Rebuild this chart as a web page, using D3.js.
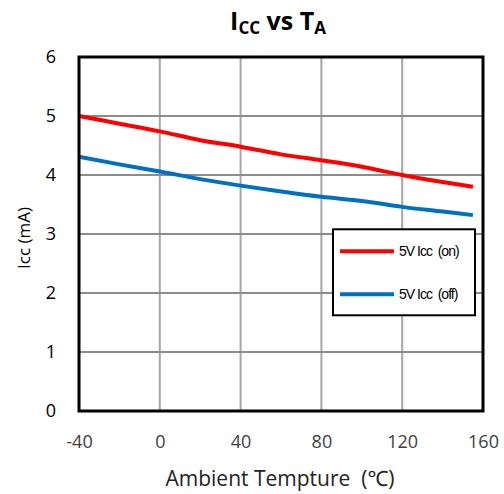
<!DOCTYPE html>
<html>
<head>
<meta charset="utf-8">
<script src="https://cdn.jsdelivr.net/npm/d3@7/dist/d3.min.js"></script>
<style>
  body { margin: 0; background: #fff; }
  svg { display: block; font-family: "Open Sans", "Noto Sans", sans-serif; }
</style>
</head>
<body>
<svg id="chart"></svg>
<script>
// data
var temps   = [-40, -20, 0, 20, 40, 60, 80, 100, 120, 140, 155];
var iccOn   = [5.00, 4.87, 4.74, 4.59, 4.48, 4.35, 4.25, 4.14, 4.00, 3.88, 3.80];
var iccOff  = [4.31, 4.18, 4.06, 3.93, 3.82, 3.72, 3.63, 3.56, 3.46, 3.38, 3.32];
var xTicks  = [-40, 0, 40, 80, 120, 160];
var yTicks  = [0, 1, 2, 3, 4, 5, 6];
var seriesNames  = ["5V Icc  (on)", "5V Icc  (off)"];
var seriesColors = ["#ff0000", "#0070c0"];

var width = 504, height = 494;
var margin = { top: 57, left: 79, right: 21, bottom: 83 };
var w = width - margin.left - margin.right;
var h = height - margin.top - margin.bottom;

var svg = d3.select("#chart").attr("width", width).attr("height", height);
var g = svg.append("g").attr("transform", "translate(" + [margin.left, margin.top] + ")");

var x = d3.scaleLinear().domain([-40, 160]).range([0, w]);
var y = d3.scaleLinear().domain([0, 6]).range([h, 0]);

// grid
g.selectAll(".vgrid").data(xTicks).enter().append("line")
    .attr("x1", function (d) { return x(d); }).attr("x2", function (d) { return x(d); })
    .attr("y1", 0).attr("y2", h)
    .attr("stroke", "#a6a6a6").attr("stroke-width", 2);
g.selectAll(".hgrid").data(yTicks).enter().append("line")
    .attr("x1", 0).attr("x2", w)
    .attr("y1", function (d) { return y(d); }).attr("y2", function (d) { return y(d); })
    .attr("stroke", "#8c8c8c").attr("stroke-width", 2);

// lines
var line = d3.line()
    .x(function (d) { return x(d[0]); })
    .y(function (d) { return y(d[1]); })
    .curve(d3.curveMonotoneX);

[iccOn, iccOff].forEach(function (vals, i) {
    g.append("path")
        .datum(temps.map(function (t, k) { return [t, vals[k]]; }))
        .attr("fill", "none")
        .attr("stroke", seriesColors[i])
        .attr("stroke-width", 4)
        .attr("d", line);
});

// frame
g.append("rect").attr("x", 0).attr("y", 0).attr("width", w).attr("height", h)
    .attr("fill", "none").attr("stroke", "#000").attr("stroke-width", 3);

// axes
var fmt = function (d) { return String(d); };
var xAxis = g.append("g").attr("transform", "translate(0," + h + ")")
    .call(d3.axisBottom(x).tickValues(xTicks).tickFormat(fmt).tickSize(0).tickPadding(24));
xAxis.select(".domain").remove();
xAxis.selectAll("text").attr("fill", "#404040").style("font-size", "18px")
    .style("font-family", "'Open Sans', sans-serif");

var yAxis = g.append("g")
    .call(d3.axisLeft(y).tickValues(yTicks).tickFormat(fmt).tickSize(0).tickPadding(23));
yAxis.select(".domain").remove();
yAxis.selectAll("text").attr("fill", "#000").style("font-size", "18px")
    .style("font-family", "'Open Sans', sans-serif");

// legend
var legend = g.append("g").attr("transform", "translate(" + (w - 150) + "," + (y(3.08)) + ")");
legend.append("rect").attr("width", 142).attr("height", 86)
    .attr("fill", "#fff").attr("stroke", "#000").attr("stroke-width", 2);
seriesNames.forEach(function (name, i) {
    var ly = 22 + i * 43;
    legend.append("line").attr("x1", 7).attr("x2", 61).attr("y1", ly).attr("y2", ly)
        .attr("stroke", seriesColors[i]).attr("stroke-width", 4);
    legend.append("text").attr("x", 66).attr("y", ly + 5)
        .style("font-size", "14px").style("letter-spacing", "-1px")
        .style("white-space", "pre")
        .style("font-family", "'Liberation Sans', Arial, sans-serif")
        .text(name);
});

// title
var title = svg.append("text")
    .attr("x", 278).attr("y", 30)
    .attr("text-anchor", "middle")
    .style("font-size", "25px").style("font-weight", "bold");
title.append("tspan").text("I");
title.append("tspan").attr("dy", 4).style("font-size", "17px").text("CC");
title.append("tspan").attr("dy", -4).text(" vs T");
title.append("tspan").attr("dy", 4).style("font-size", "17px").text("A");

// axis titles
svg.append("text")
    .attr("x", 280).attr("y", 486)
    .attr("text-anchor", "middle")
    .attr("fill", "#222")
    .style("font-size", "21px")
    .style("white-space", "pre")
    .text("Ambient Tempture  (\u2103)");

svg.append("text")
    .attr("transform", "translate(30,238) rotate(-90)")
    .attr("text-anchor", "middle")
    .style("font-size", "17px")
    .text("Icc (mA)");
</script>
</body>
</html>
